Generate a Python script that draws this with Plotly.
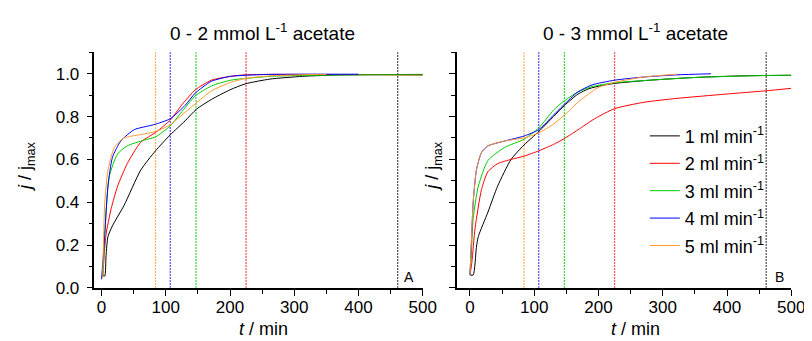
import plotly.graph_objects as go

# ---------------- data ----------------
flow_labels = ["1 ml min<sup>-1</sup>", "2 ml min<sup>-1</sup>", "3 ml min<sup>-1</sup>",
               "4 ml min<sup>-1</sup>", "5 ml min<sup>-1</sup>"]
colors = ["#000000", "#ff0000", "#00cc00", "#0000ff", "#ff9933"]

# Panel A (0 - 2 mmol/L acetate)
tA_1 = [2, 5, 7, 10, 17, 35, 61, 84, 107, 130, 148, 171, 200, 224, 262, 313, 364, 420, 500]
jA_1 = [0.06, 0.055, 0.15, 0.24, 0.29, 0.385, 0.55, 0.64, 0.715, 0.78, 0.835, 0.88, 0.925, 0.953, 0.975, 0.988, 0.994, 0.996, 0.997]
tA_2 = [2, 4, 7, 15, 25, 40, 61, 86, 107, 125, 146, 171, 201, 224, 260, 320, 400, 500]
jA_2 = [0.05, 0.15, 0.25, 0.37, 0.475, 0.58, 0.68, 0.73, 0.784, 0.855, 0.925, 0.97, 0.988, 0.995, 0.997, 0.997, 0.996, 0.994]
tA_3 = [2, 4, 7, 12, 25, 40, 66, 84, 107, 127, 146, 171, 201, 224, 262, 313, 400, 500]
jA_3 = [0.05, 0.18, 0.354, 0.52, 0.626, 0.663, 0.69, 0.705, 0.757, 0.83, 0.897, 0.943, 0.97, 0.978, 0.988, 0.992, 0.995, 0.995]
tA_4 = [0, 2, 5, 10, 17, 30, 51, 81, 107, 130, 146, 171, 201, 224, 260, 320, 400]
jA_4 = [0.04, 0.12, 0.25, 0.475, 0.61, 0.686, 0.739, 0.762, 0.79, 0.852, 0.91, 0.965, 0.988, 0.993, 0.997, 0.998, 0.998]
tA_5 = [2, 3, 5, 10, 20, 35, 61, 84, 107, 130, 146, 171, 201, 224, 262, 320, 350]
jA_5 = [0.05, 0.2, 0.40, 0.55, 0.656, 0.70, 0.716, 0.73, 0.762, 0.82, 0.86, 0.92, 0.96, 0.978, 0.99, 0.996, 0.997]

# Panel B (0 - 3 mmol/L acetate)
tB_1 = [0, 5, 10, 13, 28, 43, 64, 84, 107, 130, 147, 168, 185, 205, 225, 280, 352, 420, 500]
jB_1 = [0.06, 0.06, 0.19, 0.24, 0.354, 0.475, 0.60, 0.667, 0.73, 0.80, 0.852, 0.905, 0.93, 0.945, 0.955, 0.97, 0.983, 0.99, 0.993]
tB_2 = [0, 3, 8, 18, 28, 43, 64, 84, 107, 130, 145, 168, 194, 225, 271, 322, 398, 459, 500]
jB_2 = [0.06, 0.12, 0.28, 0.46, 0.543, 0.58, 0.60, 0.615, 0.64, 0.67, 0.694, 0.738, 0.79, 0.837, 0.867, 0.885, 0.905, 0.92, 0.932]
tB_3 = [0, 2, 5, 13, 28, 54, 84, 107, 130, 147, 168, 190, 225, 290, 352, 459, 500]
jB_3 = [0.06, 0.15, 0.324, 0.475, 0.595, 0.656, 0.694, 0.747, 0.83, 0.874, 0.915, 0.94, 0.958, 0.972, 0.983, 0.992, 0.993]
tB_4 = [0, 2, 5, 10, 18, 28, 54, 84, 107, 130, 145, 168, 190, 225, 271, 322, 375]
jB_4 = [0.06, 0.2, 0.40, 0.55, 0.633, 0.663, 0.686, 0.709, 0.739, 0.807, 0.852, 0.915, 0.948, 0.97, 0.985, 0.995, 1.0]
tB_5 = [0, 2, 5, 10, 18, 28, 54, 84, 107, 130, 147, 168, 199, 225, 271, 322]
jB_5 = [0.06, 0.2, 0.40, 0.55, 0.633, 0.663, 0.686, 0.70, 0.724, 0.765, 0.807, 0.867, 0.935, 0.96, 0.985, 0.998]

# residence-time markers (dotted vertical lines), same for both panels
vline_t = [84, 107, 147, 225, 461]
vline_colors = ["#ff9933", "#2222ff", "#00cc00", "#ff2222", "#222222"]

panelA = [(tA_1, jA_1), (tA_2, jA_2), (tA_3, jA_3), (tA_4, jA_4), (tA_5, jA_5)]
panelB = [(tB_1, jB_1), (tB_2, jB_2), (tB_3, jB_3), (tB_4, jB_4), (tB_5, jB_5)]

FONT = "Liberation Sans, Arial, sans-serif"

fig = go.Figure()

# dotted vertical lines
for xa, ya in (("x", "y"), ("x2", "y2")):
    for tv, c in zip(vline_t, vline_colors):
        fig.add_trace(go.Scatter(x=[tv, tv], y=[0, 1.1], mode="lines", xaxis=xa, yaxis=ya,
                                 line=dict(color=c, width=1.3, dash="1.5px,1.5px"),
                                 showlegend=False, hoverinfo="skip"))

# curves
for i, (t, j) in enumerate(panelA):
    fig.add_trace(go.Scatter(x=t, y=j, mode="lines", xaxis="x", yaxis="y",
                             line=dict(color=colors[i], width=1, shape="spline", smoothing=0.6),
                             showlegend=False, name=flow_labels[i]))
for i, (t, j) in enumerate(panelB):
    fig.add_trace(go.Scatter(x=t, y=j, mode="lines", xaxis="x2", yaxis="y2",
                             line=dict(color=colors[i], width=1, shape="spline", smoothing=0.6),
                             showlegend=True, name=flow_labels[i], legendgroup="g%d" % i))

W, H = 812, 341
xdomA = [88 / W, 422 / W]
xdomB = [457 / W, 797 / W]
ydom = [(H - 288.3) / H, (H - 45.7) / H]

axis_common = dict(showline=True, linecolor="black", linewidth=1.5, ticks="outside",
                   ticklen=6, tickwidth=1.3, tickcolor="black", showgrid=False, zeroline=False,
                   tickfont=dict(family=FONT, size=17, color="black"))
xminor = dict(ticks="outside", ticklen=4, dtick=50, tick0=0, tickcolor="black", tickwidth=1.3)
yminor = dict(ticks="outside", ticklen=4, dtick=0.1, tick0=0, tickcolor="black", tickwidth=1.3)

fig.update_layout(
    width=W, height=H, margin=dict(l=0, r=0, t=0, b=0),
    paper_bgcolor="white", plot_bgcolor="white",
    font=dict(family=FONT, color="black"),
    xaxis=dict(domain=xdomA, range=[-11, 500], anchor="y", tickvals=[0, 100, 200, 300, 400, 500],
               ticklabelstandoff=-3, minor=xminor, **axis_common),
    yaxis=dict(domain=ydom, range=[0, 1.1], anchor="x", tickvals=[0, 0.2, 0.4, 0.6, 0.8, 1.0],
               tickformat=".1f", ticklabelstandoff=4, minor=yminor, **axis_common),
    xaxis2=dict(domain=xdomB, range=[-20, 500], anchor="y2", tickvals=[0, 100, 200, 300, 400, 500],
                ticklabelstandoff=-3, minor=xminor, **axis_common),
    yaxis2=dict(domain=ydom, range=[0, 1.1], anchor="x2", tickvals=[0, 0.2, 0.4, 0.6, 0.8, 1.0],
                showticklabels=False, minor=yminor, **axis_common),
    legend=dict(x=648 / W, y=1 - 113 / H, xanchor="left", yanchor="top",
                bgcolor="rgba(0,0,0,0)", font=dict(family=FONT, size=18, color="black"),
                tracegroupgap=1, itemclick=False),
    showlegend=True,
)

ann = []
ann.append(dict(text="0 - 2 mmol L<sup>-1</sup> acetate", x=259 / W, y=1 - 25 / H, xref="paper", yref="paper",
                showarrow=False, font=dict(family=FONT, size=19), xanchor="center", yanchor="middle"))
ann.append(dict(text="0 - 3 mmol L<sup>-1</sup> acetate", x=638 / W, y=1 - 25 / H, xref="paper", yref="paper",
                showarrow=False, font=dict(family=FONT, size=19), xanchor="center", yanchor="middle"))
for xc in (260 / W, 638 / W):
    ann.append(dict(text="<i>t</i> / min", x=xc, y=1 - 331 / H, xref="paper", yref="paper",
                    showarrow=False, font=dict(family=FONT, size=18), xanchor="center", yanchor="middle"))
for xc in (19 / W, 433 / W):
    ann.append(dict(text="<i>j</i> / j<sub>max</sub>", x=xc, y=1 - 163 / H, xref="paper", yref="paper",
                    showarrow=False, textangle=-90, font=dict(family=FONT, size=18),
                    xanchor="center", yanchor="middle"))
ann.append(dict(text="A", x=479, y=0.05, xref="x", yref="y", showarrow=False,
                font=dict(family=FONT, size=14)))
ann.append(dict(text="B", x=481, y=0.05, xref="x2", yref="y2", showarrow=False,
                font=dict(family=FONT, size=14)))
fig.update_layout(annotations=ann)

fig.write_html("out.html")
